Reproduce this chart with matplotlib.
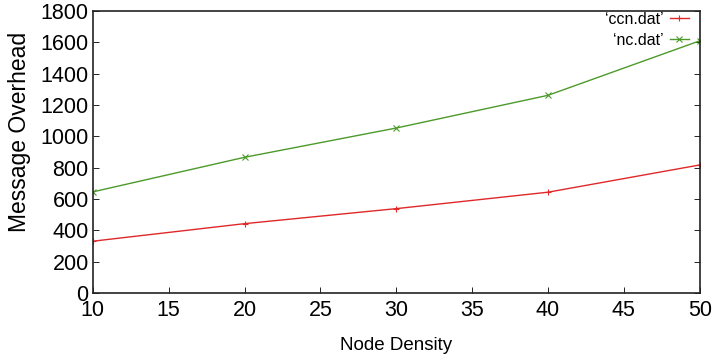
import matplotlib.pyplot as plt

# data
node_density = [10, 20, 30, 40, 50]
ccn_overhead = [330, 442, 538, 643, 817]
nc_overhead = [645, 866, 1053, 1262, 1610]

x_ticks = [10, 15, 20, 25, 30, 35, 40, 45, 50]
y_ticks = [0, 200, 400, 600, 800, 1000, 1200, 1400, 1600, 1800]


def main():
    plt.rcParams["font.family"] = ["Liberation Sans", "DejaVu Sans"]
    plt.rcParams["font.size"] = 15

    fig = plt.figure(figsize=(7.14, 3.58), dpi=100)
    ax = fig.add_axes([0.130, 0.182, 0.850, 0.787])

    ax.plot(node_density, ccn_overhead, color="#e02828", linewidth=1.0,
            marker="+", markersize=5, markeredgewidth=0.8, label="\u2018ccn.dat\u2019")
    ax.plot(node_density, nc_overhead, color="#4c9a2a", linewidth=1.0,
            marker="x", markersize=4, markeredgewidth=0.8, label="\u2018nc.dat\u2019")

    ax.set_xlim(10, 50)
    ax.set_ylim(0, 1800)
    ax.set_xticks(x_ticks)
    ax.set_yticks(y_ticks)
    ax.tick_params(direction="in", length=4, width=0.6, top=False, right=True,
                   labelsize=15.5, pad=3)
    ax.tick_params(axis="x", pad=5)
    for side in ax.spines.values():
        side.set_linewidth(1.2)
        side.set_color("#222222")

    ax.set_xlabel("Node Density", fontsize=13.5, labelpad=12)
    ax.set_ylabel("Message Overhead", fontsize=16.5, labelpad=4)
    ax.yaxis.set_label_coords(-0.102, 0.57)

    ax.legend(loc="upper right", bbox_to_anchor=(0.995, 1.025), frameon=False,
              markerfirst=False, fontsize=11.5, handlelength=1.2,
              handletextpad=0.4, labelspacing=0.35, borderaxespad=0.1)

    fig.savefig("out.png", dpi=100)


if __name__ == "__main__":
    main()
